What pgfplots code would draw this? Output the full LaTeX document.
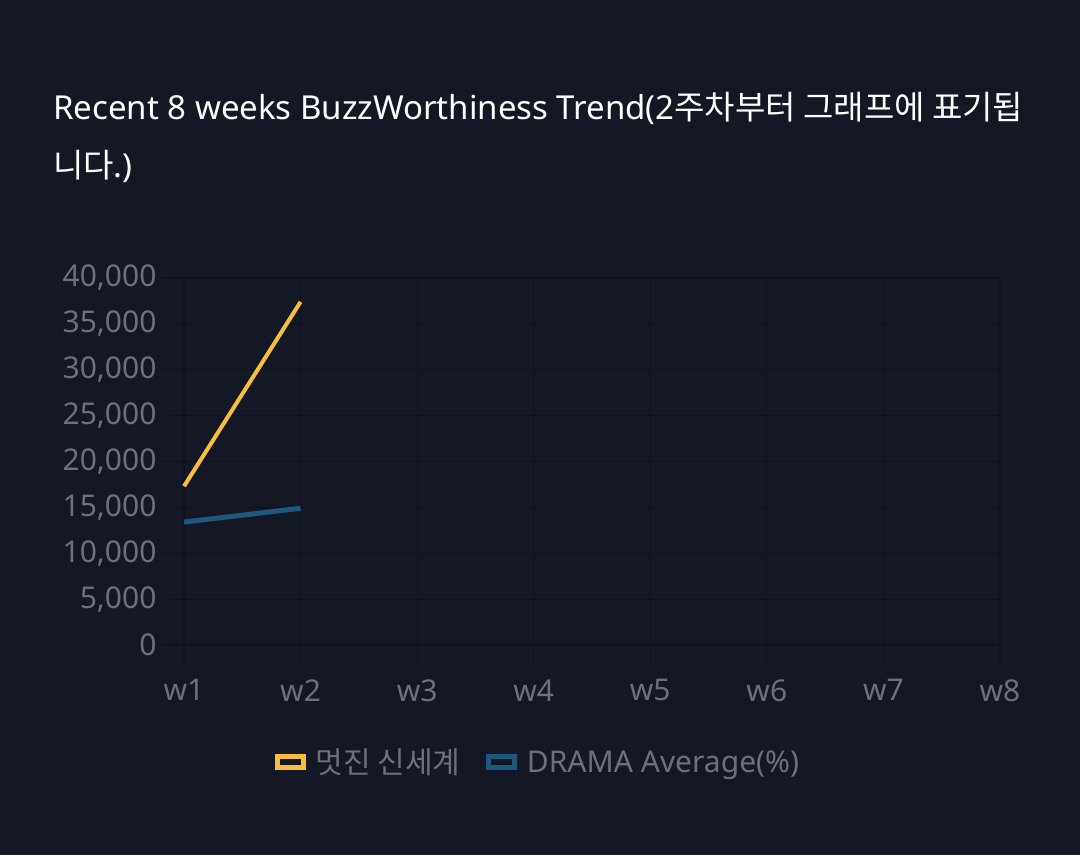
\documentclass[border=0pt]{standalone}
\usepackage{fontspec}
\setmainfont{Noto Sans}
\newfontfamily\cjk{Noto Sans CJK KR}
\usepackage{pgfplots}
\pgfplotsset{compat=1.18}
\definecolor{bg}{RGB}{19,24,36}
\definecolor{gridc}{RGB}{13,17,26}
\definecolor{ylw}{RGB}{246,190,58}
\definecolor{blu}{RGB}{28,88,128}
\definecolor{lbl}{RGB}{108,112,120}
\begin{document}
\begin{tikzpicture}[x=1pt,y=1pt]
\fill[bg] (0,0) rectangle (1080,855);
\node[anchor=base west, text=white, font=\fontsize{33}{38}\selectfont, inner sep=0] at (53,735) {Recent 8 weeks BuzzWorthiness Trend(2{\cjk 주차부터 그래프에 표기됩}};
\node[anchor=base west, text=white, font=\fontsize{33}{38}\selectfont, inner sep=0] at (53,677) {{\cjk 니다}.)};
\begin{axis}[
  at={(184pt,210pt)}, anchor=south west,
  scale only axis, width=816pt, height=367pt,
  xmin=1, xmax=8, ymin=0, ymax=40000,
  xtick={1,...,8}, xticklabels={w1,w2,w3,w4,w5,w6,w7,w8},
  ytick={0,5000,...,40000},
  tick pos=left,
  axis line style={draw=none},
  grid=major, major grid style={gridc, line width=1.2pt},
  tick align=outside, major tick length=21pt,
  tick style={gridc, line width=1.2pt},
  ticklabel style={text=lbl, font=\fontsize{30}{34}\selectfont},
  yticklabel style={xshift=-3pt},
  xticklabel style={yshift=-10pt},
  /pgf/number format/assume math mode=true,
  /pgf/number format/1000 sep={,},
  scaled y ticks=false,
  legend style={at={(0.434,-0.319)}, anchor=center, draw=none, fill=none, text=lbl, font=\fontsize{30}{34}\selectfont, legend columns=2, /tikz/every even column/.append style={column sep=24pt}, /tikz/every odd column/.append style={column sep=8pt}},
  legend image code/.code={\draw[#1, line width=4.5pt, fill=bg] (0pt,-5.5pt) rectangle (26pt,5.5pt);},
  clip=false,
]
\addplot[ylw, line width=4pt] coordinates {(1,17300) (2,37400)};
\addlegendentry{{\cjk 멋진 신세계}}
\addplot[blu, line width=5pt] coordinates {(1,13400) (2,14900)};
\addlegendentry{DRAMA Average(\%)}
\end{axis}
\end{tikzpicture}
\end{document}
